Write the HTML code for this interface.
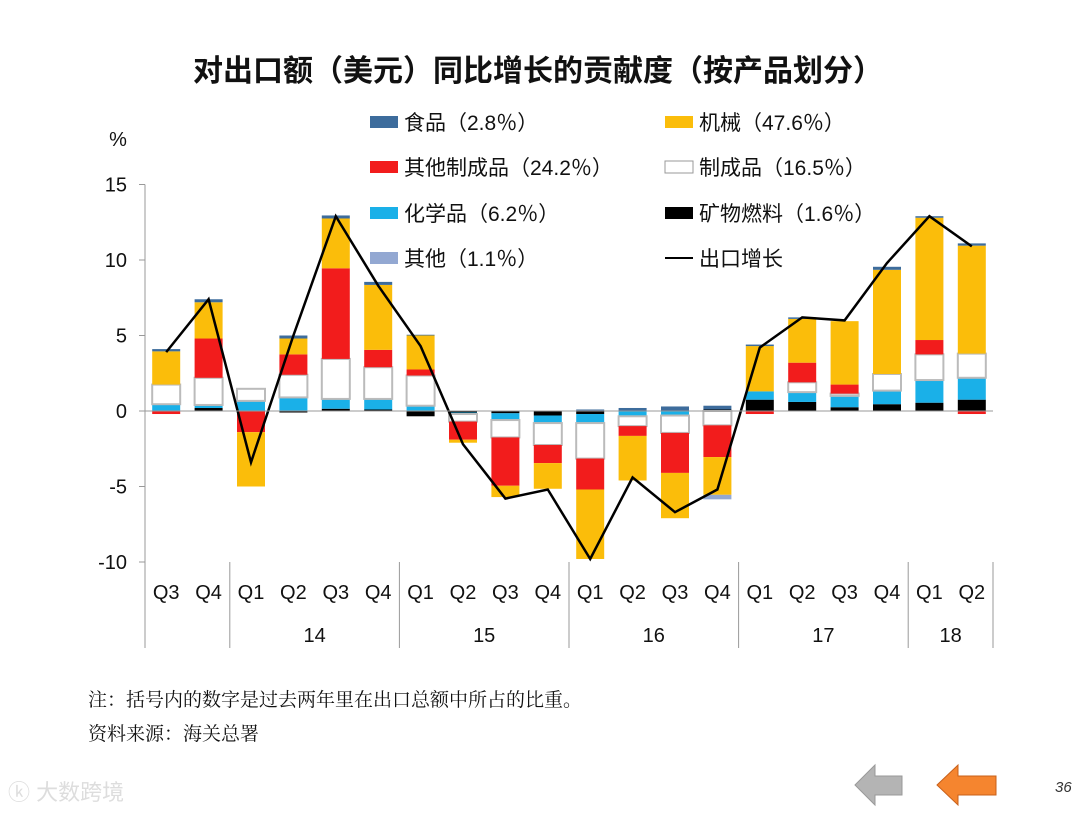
<!DOCTYPE html>
<html><head><meta charset="utf-8">
<style>
body{margin:0;background:#fff;width:1080px;height:810px;overflow:hidden;font-family:"Liberation Sans","Noto Sans CJK SC",sans-serif;}
svg text{font-family:"Liberation Sans","Noto Sans CJK SC",sans-serif;}
svg text.serif{font-family:"Liberation Serif","Noto Serif CJK SC",serif;}
</style></head>
<body>
<svg id="c" width="1080" height="810" xmlns="http://www.w3.org/2000/svg">
<text x="538" y="81" text-anchor="middle" font-size="30" font-weight="bold" fill="#111">对出口额（美元）同比增长的贡献度（按产品划分）</text>
<text x="118" y="146" text-anchor="middle" font-size="20" fill="#111">%</text>
<g id="legend"></g>
<g id="grid"></g><g id="bars"></g><g id="line"></g><g id="axes"></g>
<text class="serif" x="88" y="706" font-size="19" fill="#111">注：括号内的数字是过去两年里在出口总额中所占的比重。</text>
<text class="serif" x="88" y="740" font-size="19" fill="#111">资料来源：海关总署</text>
<text x="8" y="800" font-size="22" fill="#ddd">ⓚ 大数跨境</text>
<polygon points="855,785 875,765 875,776 902,776 902,795 875,795 875,805" fill="#b4b4b4" stroke="#999"/>
<polygon points="937,785 958,765 958,776 996,776 996,795 958,795 958,805" fill="#f5852f" stroke="#c8601a"/>
<text x="1055" y="792" font-size="15" font-style="italic" fill="#333">36</text>
</svg>
<script>
const quarters=["Q3","Q4","Q1","Q2","Q3","Q4","Q1","Q2","Q3","Q4","Q1","Q2","Q3","Q4","Q1","Q2","Q3","Q4","Q1","Q2"];
const years=[["",0,2],["14",2,6],["15",6,10],["16",10,14],["17",14,18],["18",18,20]];
const fuel=[0,0.2,0,-0.1,0.15,0.1,-0.35,-0.1,-0.15,-0.3,-0.2,0,0,0.1,0.75,0.6,0.25,0.45,0.55,0.75];
const chem=[0.45,0.2,0.67,0.9,0.65,0.7,0.35,-0.1,-0.45,-0.5,-0.6,-0.35,-0.3,0,0.55,0.65,0.75,0.9,1.5,1.45];
const manuf=[1.3,1.8,0.8,1.5,2.65,2.1,2.0,-0.5,-1.15,-1.45,-2.35,-0.65,-1.15,-0.95,0,0.65,0.15,1.1,1.7,1.6];
const otherManuf=[-0.2,2.6,-1.4,1.35,6.0,1.15,0.4,-1.2,-3.2,-1.2,-2.05,-0.65,-2.65,-2.1,-0.2,1.3,0.6,0,0.95,-0.2];
const machinery=[2.2,2.4,-3.6,1.05,3.3,4.3,2.25,-0.2,-0.75,-1.7,-4.6,-2.95,-3.0,-2.5,3.0,2.9,4.2,6.9,8.1,7.15];
const food=[0.15,0.2,0,0.2,0.2,0.2,0.05,0,0,0,0.1,0.2,0.3,0.25,0.1,0.1,0,0.2,0.1,0.15];
const other=[0,0,0,0,0,0,0,0,0,0,0,0,0,-0.3,0,0,0,0,0,0];
const growth=[3.9,7.4,-3.4,5.0,12.9,8.3,4.3,-2.2,-5.8,-5.2,-9.8,-4.4,-6.7,-5.2,4.2,6.2,6.0,9.8,12.9,10.9];
const yTicks=[15,10,5,0,-5,-10];
const series=[
 {name:"fuel",vals:fuel,fill:"#000",stroke:"none"},
 {name:"chem",vals:chem,fill:"#1ab0e8",stroke:"none"},
 {name:"manuf",vals:manuf,fill:"#fff",stroke:"#bbb"},
 {name:"other-manuf",vals:otherManuf,fill:"#f21c1c",stroke:"none"},
 {name:"machinery",vals:machinery,fill:"#fbbd0a",stroke:"none"},
 {name:"food",vals:food,fill:"#3d6c9c",stroke:"none"},
 {name:"other",vals:other,fill:"#93a8d2",stroke:"none"}];
const NS="http://www.w3.org/2000/svg";
const x0=145,x1=993,step=(x1-x0)/quarters.length,bw=28;
const y=v=>411-v*15.1;
const xc=i=>x0+step*(i+0.5);
function mk(tag,attrs,parent){const e=document.createElementNS(NS,tag);for(const k in attrs)e.setAttribute(k,attrs[k]);document.getElementById(parent).appendChild(e);return e;}
let ax=mk("line",{x1:x0,y1:y(15),x2:x0,y2:648,stroke:"#999"},"axes");


yTicks.forEach(t=>{
 let tl=mk("line",{x1:x0-6,x2:x0,y1:y(t),y2:y(t),stroke:"#999"},"axes");
 
 
 let tx=mk("text",{x:127,y:y(t)+7,"text-anchor":"end","font-size":20,fill:"#111"},"axes");tx.textContent=t;
 
 
});
let zl=mk("line",{x1:x0,x2:x1,y1:y(0),y2:y(0),stroke:"#999"},"axes");


quarters.forEach((q,i)=>{
 let pos=0,neg=0;
 series.forEach(s=>{const v=s.vals[i];if(!v)return;let a,b;
  if(v>0){a=pos;b=pos+v;pos=b;}else{a=neg;b=neg+v;neg=b;}
  const r=mk("rect",{x:xc(i)-bw/2,y:Math.min(y(a),y(b)),width:bw,height:Math.abs(y(a)-y(b)),fill:s.fill,stroke:s.stroke,"stroke-width":s.stroke=="none"?0:2},"bars");
  
  });
 let t=mk("text",{x:xc(i),y:599,"text-anchor":"middle","font-size":20,fill:"#111"},"axes");t.textContent=q;
 
 
});
years.forEach(yv=>{
 let sx=x0+step*yv[1];
 let l=mk("line",{x1:sx,x2:sx,y1:y(-10),y2:648,stroke:"#999"},"axes");
 
 
 if(yv[0]){let t=mk("text",{x:x0+step*(yv[1]+yv[2])/2,y:642,"text-anchor":"middle","font-size":20,fill:"#111"},"axes");t.textContent=yv[0];
 
 }
});
let ex=mk("line",{x1:x1,x2:x1,y1:y(-10),y2:648,stroke:"#999"},"axes");


const pl=mk("polyline",{points:growth.map((v,i)=>xc(i)+","+y(v)).join(" "),fill:"none",stroke:"#000","stroke-width":2.5},"line");


const leg=[["食品（2.8％）","#3d6c9c",370,122],["机械（47.6％）","#fbbd0a",665,122],["其他制成品（24.2％）","#f21c1c",370,167],["制成品（16.5％）","#fff",665,167],["化学品（6.2％）","#1ab0e8",370,213],["矿物燃料（1.6％）","#000",665,213],["其他（1.1％）","#93a8d2",370,258],["出口增长","line",665,258]];
leg.forEach(l=>{
 let m;
 if(l[1]=="line")m=mk("line",{x1:l[2],x2:l[2]+28,y1:l[3],y2:l[3],stroke:"#000","stroke-width":2},"legend");
 else m=mk("rect",{x:l[2],y:l[3]-6,width:28,height:12,fill:l[1],stroke:l[1]=="#fff"?"#999":"none"},"legend");
 
 
 let t=mk("text",{x:l[2]+34,y:l[3]+8,"font-size":21,fill:"#111"},"legend");t.textContent=l[0];
 
 
});
</script>
</body></html>
